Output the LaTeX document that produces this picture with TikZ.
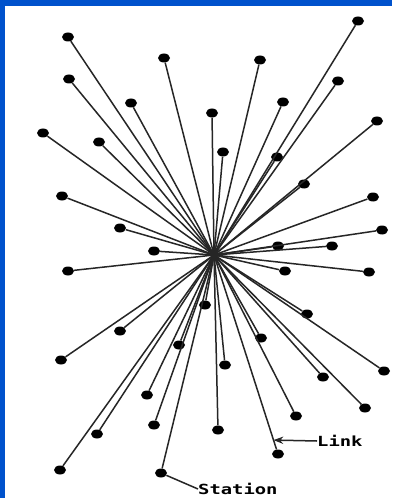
\documentclass[tikz,border=0pt]{standalone}
\usepackage{fontspec}
\newfontfamily\tagfont[FakeStretch=1.35]{DejaVu Sans Mono}
\usetikzlibrary{
	arrows.meta,
	shapes.geometric,
	calc
}

\begin{document}
\begin{tikzpicture}[
			x=1bp, y=-1bp,
			station/.style={ellipse, fill=black, minimum width=12bp, minimum height=9bp, inner sep=0pt},
			link/.style={line width=1.5bp, draw=black!85},
			tag/.style={font=\tagfont\bfseries\fontsize{14}{14}\selectfont, inner sep=0pt, anchor=west},
			>=Stealth
		]

		% frame
		\useasboundingbox (0,0) rectangle (392,498);
		\fill[white] (0,0) rectangle (392,498);
		\fill[blue!60!cyan!80!black] (0,0) rectangle (392,6);
		\fill[blue!60!cyan!80!black] (0,0) rectangle (5,498);

		\coordinate (h) at (214,255);

		% stations
		\foreach \i/\x/\y in {
			1/68/37, 2/69/79, 3/43/133, 4/164/58, 5/131/103, 6/99/142,
			7/62/196, 8/120/228, 9/154/251, 10/358/21, 11/260/60, 12/338/81,
			13/283/102, 14/212/113, 15/377/121, 16/223/152, 17/277/157, 18/304/184,
			19/373/197, 20/382/230, 21/278/246, 22/332/246, 23/68/271, 24/120/331,
			25/61/360, 26/179/345, 27/147/395, 28/154/425, 29/97/434, 30/60/470,
			31/161/473, 32/285/271, 33/369/272, 34/307/314, 35/205/305, 36/261/338,
			37/384/371, 38/225/365, 39/323/377, 40/365/408, 41/296/416, 42/218/430,
			43/278/454}
			\node[station] (s\i) at (\x,\y) {};

		% links
		\foreach \i in {1,...,43}
			\draw[link] (h) -- (s\i);

		% labels
		\node[tag] (lbl) at (317,441) {Link};
		\coordinate (lk) at ($(h)!0.93!(s43)$);
		\draw[link, <-] (lk) -- (lbl.west);

		\node[tag] (stn) at (198,489) {Station};
		\draw[link] (s31) -- (stn.west);
	\end{tikzpicture}
\end{document}
